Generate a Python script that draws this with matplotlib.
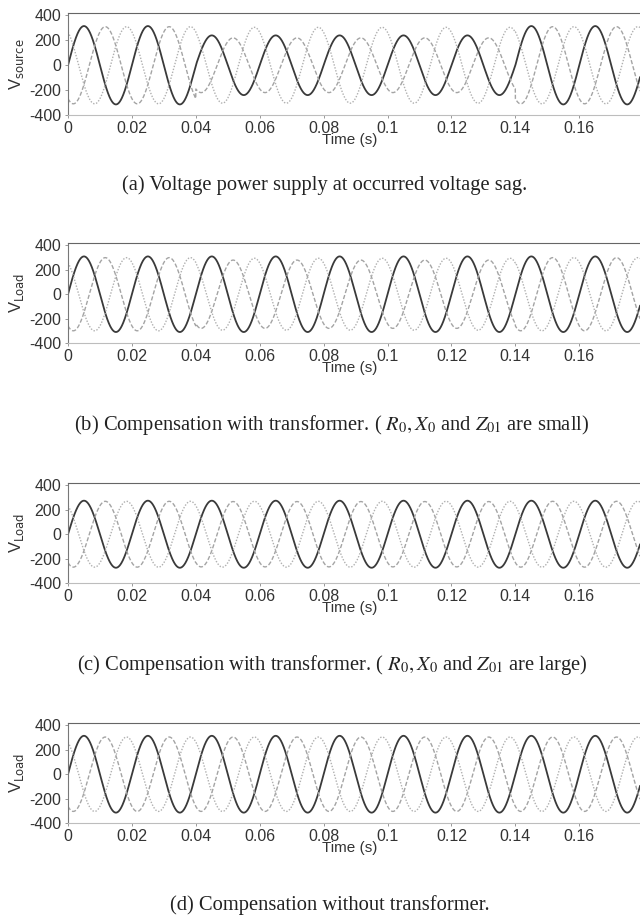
import numpy as np
import matplotlib
matplotlib.use("Agg")
from matplotlib import pyplot as plt

# three-phase waveform parameters
freq = 50.0
phase_deg = [0, -120, 120]
seg_edges = [0.0, 0.04, 0.14, 0.179]

# peak amplitude per segment (rows) and per phase (cols)
amp_a = [[315, 310, 310], [240, 220, 305], [315, 310, 310]]
amp_b = [[310, 300, 300], [310, 280, 295], [310, 300, 300]]
amp_c = [[275, 270, 270], [275, 268, 270], [275, 270, 270]]
amp_d = [[315, 305, 305], [315, 305, 305], [315, 305, 305]]

panel_amps = [amp_a, amp_b, amp_c, amp_d]
ylabels = ["source", "Load", "Load", "Load"]
captions = [
    "(a) Voltage power supply at occurred voltage sag.",
    "(b) Compensation with transformer. ( $R_0, X_0$ and $Z_{01}$ are small)",
    "(c) Compensation with transformer. ( $R_0, X_0$ and $Z_{01}$ are large)",
    "(d) Compensation without transformer.",
]
xticks = [0, 0.02, 0.04, 0.06, 0.08, 0.1, 0.12, 0.14, 0.16]
xtick_labels = ["0", "0.02", "0.04", "0.06", "0.08", "0.1", "0.12", "0.14", "0.16"]
yticks = [-400, -200, 0, 200, 400]

# axes top/bottom in pixels
ax_rows = [(13, 115), (243, 343), (483, 583), (723, 823)]
caption_y = [185, 425, 665, 905]
caption_x = [325, 332, 332, 330]

W, H = 640, 918
L = 68
fig = plt.figure(figsize=(W / 100, H / 100), dpi=100)

styles = [
    dict(color="#3a3a3a", lw=1.3, ls="-"),
    dict(color="#a4a4a4", lw=1.0, ls=(0, (3, 1.5))),
    dict(color="#b0b0b0", lw=1.0, ls=(0, (1, 1.2))),
]
tick_font = dict(family="Liberation Sans", fontsize=11.5, color="#333333")

t = np.linspace(0, seg_edges[-1], 4000)
for k, amps in enumerate(panel_amps):
    top, bot = ax_rows[k]
    ax = fig.add_axes([L / W, 1 - bot / H, 1 - L / W, (bot - top) / H])
    seg = np.searchsorted(seg_edges[1:-1], t, side="right")
    for p in range(3):
        a = np.array([amps[s][p] for s in seg])
        v = a * np.sin(2 * np.pi * freq * t + np.deg2rad(phase_deg[p]))
        ax.plot(t, v, **styles[p])
    ax.set_xlim(0, seg_edges[-1])
    ax.set_ylim(-400, 420)
    ax.set_xticks(xticks)
    ax.set_xticklabels(xtick_labels, **tick_font)
    ax.set_yticks(yticks)
    ax.set_yticklabels([str(y) for y in yticks], **tick_font)
    ax.tick_params(length=2, width=0.6, color="#888888", pad=3)
    ax.tick_params(axis="x", pad=2)
    ax.spines["right"].set_visible(False)
    for s, c in [("top", "#666666"), ("bottom", "#bdbdbd"), ("left", "#777777")]:
        ax.spines[s].set_color(c)
        ax.spines[s].set_linewidth(0.8)
    ax.set_ylabel(r"V$_{\mathrm{" + ylabels[k] + "}}$", family="Liberation Sans",
                  fontsize=12, color="#333333", math_fontfamily="dejavusans")
    ax.yaxis.set_label_coords((26 - L) / (W - L), 0.5)
    ax.set_xlabel("Time (s)", family="Liberation Sans", fontsize=11, color="#333333")
    ax.xaxis.set_label_coords((350 - L) / (W - L), -0.18)
    fig.text(caption_x[k] / W, 1 - caption_y[k] / H, captions[k], ha="center", va="center",
             family="Liberation Serif", fontsize=14.8, color="#222222", math_fontfamily="stix")

fig.savefig("out.png", dpi=100)
